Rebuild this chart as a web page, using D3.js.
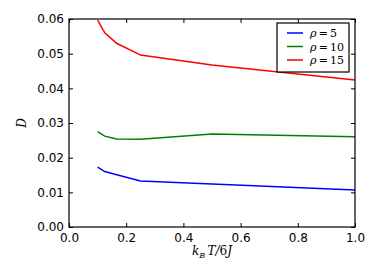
<!DOCTYPE html>
<html>
<head>
<meta charset="utf-8">
<script src="https://cdn.jsdelivr.net/npm/d3@7"></script>
<style>
  body { margin: 0; background: #fff; }
  text { font-family: "DejaVu Sans", sans-serif; }
  .math { font-family: "DejaVu Serif", serif; font-style: italic; }
</style>
</head>
<body>
<div id="chart"></div>
<script>
'use strict';

// data
var temps = [0.1, 0.125, 1 / 6, 0.25, 0.5, 1.0];
var rho5 = [0.0173, 0.0160, 0.0151, 0.0133, 0.0124, 0.0107];
var rho10 = [0.0275, 0.0262, 0.0254, 0.0253, 0.0268, 0.0260];
var rho15 = [0.0597, 0.0560, 0.0530, 0.0496, 0.0467, 0.0424];
var seriesNames = ['5', '10', '15'];
var seriesColors = ['#0000ff', '#008000', '#ff0000'];
var xTicks = [0.0, 0.2, 0.4, 0.6, 0.8, 1.0];
var yTicks = [0.00, 0.01, 0.02, 0.03, 0.04, 0.05, 0.06];

var width = 382, height = 267;
var plotLeft = 69, plotRight = 355, plotTop = 19, plotBottom = 227;

var svg = d3.select('#chart').append('svg')
  .attr('width', width)
  .attr('height', height);

var xScale = d3.scaleLinear().domain([0, 1]).range([plotLeft, plotRight]);
var yScale = d3.scaleLinear().domain([0, 0.06]).range([plotBottom, plotTop]);

// series lines
var line = d3.line()
  .x(function(d, i){ return xScale(temps[i]); })
  .y(function(d){ return yScale(d); });

[rho5, rho10, rho15].forEach(function(s, i){
  svg.append('path')
    .attr('d', line(s))
    .attr('fill', 'none')
    .attr('stroke', seriesColors[i])
    .attr('stroke-width', 1.5);
});

// axes, ticks pointing inward like matplotlib
var tickLen = 4;
var xAxis = d3.axisBottom(xScale).tickValues(xTicks).tickSize(-tickLen).tickPadding(6)
  .tickFormat(d3.format('.1f'));
var yAxis = d3.axisLeft(yScale).tickValues(yTicks).tickSize(-tickLen).tickPadding(5)
  .tickFormat(d3.format('.2f'));
var xTop = d3.axisTop(xScale).tickValues(xTicks).tickSize(-tickLen).tickFormat('');
var yRight = d3.axisRight(yScale).tickValues(yTicks).tickSize(-tickLen).tickFormat('');

function styleAxis(g){
  g.select('.domain').remove();
  g.selectAll('line').attr('stroke', '#000').attr('stroke-width', 1);
  g.selectAll('text').attr('fill', '#000').style('font-size', '12px')
    .style('font-family', '"DejaVu Sans", sans-serif');
}

svg.append('g').attr('transform', 'translate(0,' + plotBottom + ')').call(xAxis).call(styleAxis);
svg.append('g').attr('transform', 'translate(' + plotLeft + ',0)').call(yAxis).call(styleAxis);
svg.append('g').attr('transform', 'translate(0,' + plotTop + ')').call(xTop).call(styleAxis);
svg.append('g').attr('transform', 'translate(' + plotRight + ',0)').call(yRight).call(styleAxis);

// frame
svg.append('rect')
  .attr('x', plotLeft)
  .attr('y', plotTop)
  .attr('width', plotRight - plotLeft)
  .attr('height', plotBottom - plotTop)
  .attr('fill', 'none')
  .attr('stroke', '#000')
  .attr('stroke-width', 1.2);

// axis labels
var xl = svg.append('text')
  .attr('class', 'math')
  .attr('x', (plotLeft + plotRight) / 2)
  .attr('y', 255)
  .attr('text-anchor', 'middle')
  .style('font-size', '12px');
xl.append('tspan').text('k');
xl.append('tspan').attr('dy', 3).style('font-size', '8px').text('B');
xl.append('tspan').attr('dy', -3).text('\u2009T/');
xl.append('tspan').style('font-style', 'normal').text('6');
xl.append('tspan').text('J');

svg.append('text')
  .attr('class', 'math')
  .attr('transform', 'translate(26,' + ((plotTop + plotBottom) / 2) + ') rotate(-90)')
  .attr('text-anchor', 'middle')
  .style('font-size', '12px')
  .text('D');

// legend
var legend = svg.append('g');
legend.append('rect')
  .attr('x', 277)
  .attr('y', 23)
  .attr('width', 72)
  .attr('height', 49)
  .attr('fill', '#fff')
  .attr('stroke', '#000')
  .attr('stroke-width', 1.2);

seriesNames.forEach(function(n, i){
  var yy = 33 + i * 13.5;
  legend.append('line')
    .attr('x1', 287).attr('x2', 303)
    .attr('y1', yy).attr('y2', yy)
    .attr('stroke', seriesColors[i])
    .attr('stroke-width', 1.5);
  var t = legend.append('text')
    .attr('class', 'math')
    .attr('x', 310)
    .attr('y', yy + 4)
    .style('font-size', '11px');
  t.append('tspan').text('\u03c1');
  t.append('tspan').style('font-style', 'normal').text('\u2009=\u2009' + n);
});
</script>
</body>
</html>
